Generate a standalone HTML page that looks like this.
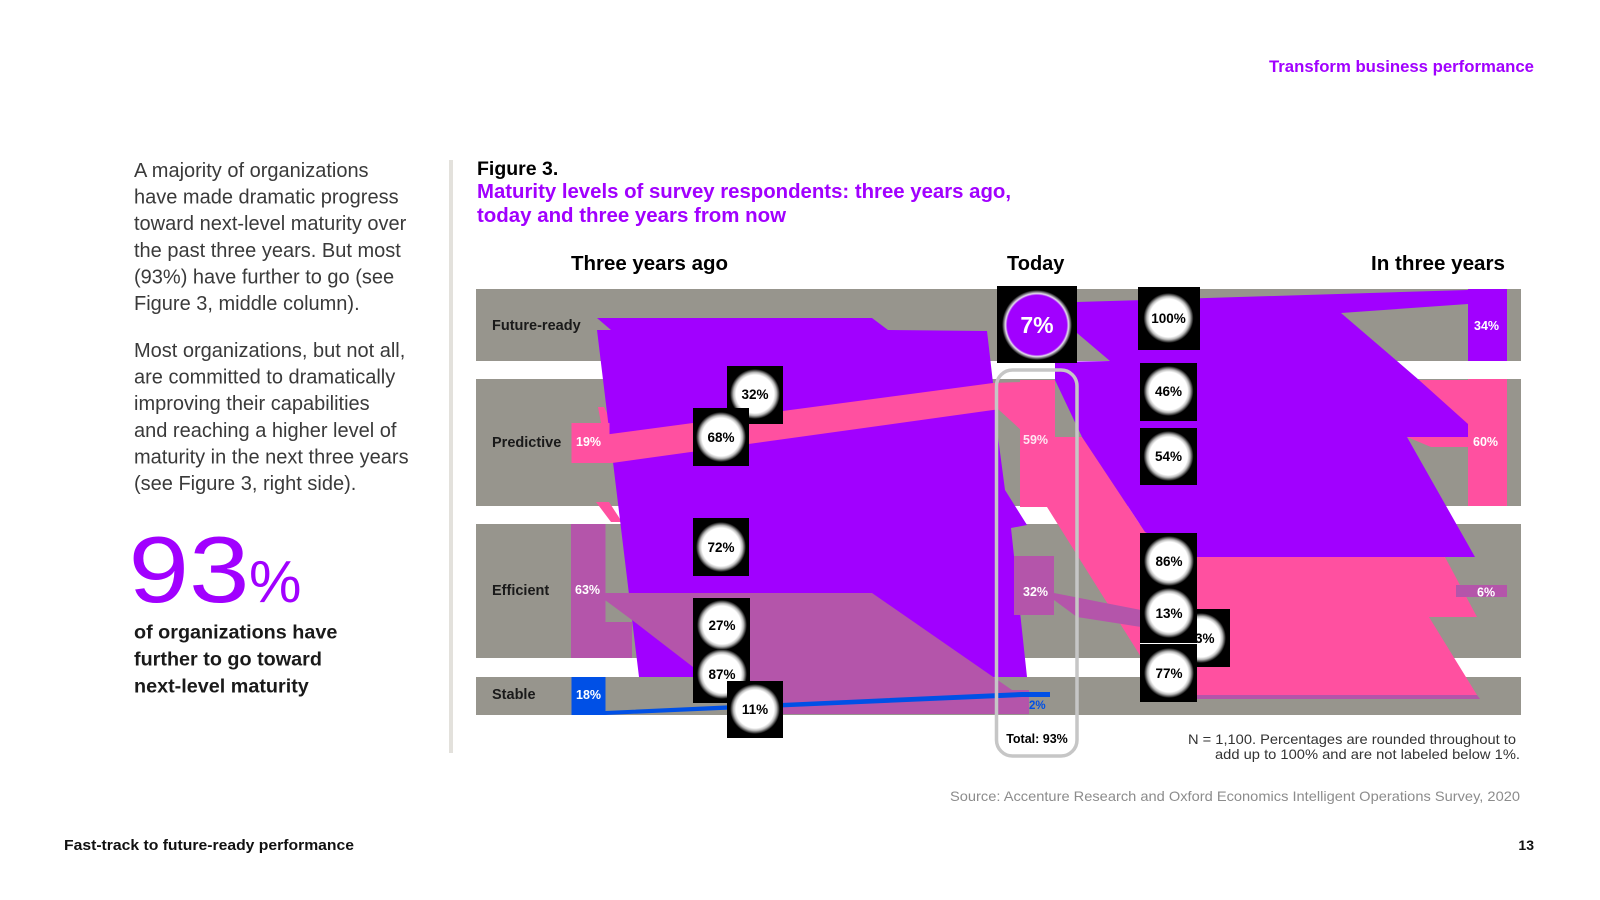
<!DOCTYPE html>
<html><head><meta charset="utf-8"><style>
html,body{margin:0;padding:0;background:#fff;}
body{width:1600px;height:900px;overflow:hidden;position:relative;font-family:"Liberation Sans",Arial,sans-serif;}
svg{position:absolute;left:0;top:0;}
text{font-family:"Liberation Sans",Arial,sans-serif;}
</style></head><body>
<svg width="1600" height="900" viewBox="0 0 1600 900" xmlns="http://www.w3.org/2000/svg">
<defs>
<radialGradient id="g" cx="0.5" cy="0.5" r="0.5">
<stop offset="0" stop-color="#fff"/><stop offset="0.76" stop-color="#fff"/><stop offset="0.86" stop-color="#bbb"/><stop offset="1" stop-color="#000"/>
</radialGradient>
<radialGradient id="gp" cx="0.5" cy="0.5" r="0.5">
<stop offset="0" stop-color="#a100ff"/><stop offset="0.85" stop-color="#a100ff"/><stop offset="0.9" stop-color="#e6e0ee"/><stop offset="1" stop-color="#000"/>
</radialGradient>
</defs>

<!-- header / footer -->
<text x="1269" y="72" font-size="16.5" font-weight="bold" fill="#a100ff" textLength="265" lengthAdjust="spacingAndGlyphs">Transform business performance</text>
<text x="64" y="850" font-size="14.5" font-weight="bold" fill="#111" textLength="290" lengthAdjust="spacingAndGlyphs">Fast-track to future-ready performance</text>
<text x="1534" y="850" font-size="14" font-weight="bold" fill="#111" text-anchor="end">13</text>
<text x="950" y="801" font-size="14" fill="#8c8c8c" textLength="570" lengthAdjust="spacingAndGlyphs">Source: Accenture Research and Oxford Economics Intelligent Operations Survey, 2020</text>

<!-- left column text -->
<g font-size="20" fill="#3a3a3a">
<text x="134" y="177">A majority of organizations</text>
<text x="134" y="203.6">have made dramatic progress</text>
<text x="134" y="230.2">toward next-level maturity over</text>
<text x="134" y="256.8">the past three years. But most</text>
<text x="134" y="283.4">(93%) have further to go (see</text>
<text x="134" y="310">Figure 3, middle column).</text>
<text x="134" y="357">Most organizations, but not all,</text>
<text x="134" y="383.6">are committed to dramatically</text>
<text x="134" y="410.2">improving their capabilities</text>
<text x="134" y="436.8">and reaching a higher level of</text>
<text x="134" y="463.4">maturity in the next three years</text>
<text x="134" y="490">(see Figure 3, right side).</text>
</g>
<text x="128.5" y="602" font-size="94" fill="#a100ff" textLength="121" lengthAdjust="spacingAndGlyphs">93</text>
<text x="249" y="602" font-size="59" fill="#a100ff">%</text>
<g font-size="19.8" font-weight="bold" fill="#1a1a1a">
<text x="134" y="638.5">of organizations have</text>
<text x="134" y="665.5">further to go toward</text>
<text x="134" y="692.5">next-level maturity</text>
</g>

<!-- divider -->
<rect x="449" y="160" width="4" height="593" fill="#e3e1dc"/>

<!-- figure titles -->
<text x="477" y="175" font-size="19.5" font-weight="bold" fill="#000">Figure 3.</text>
<text x="477" y="198" font-size="20.2" font-weight="bold" fill="#a100ff" textLength="534" lengthAdjust="spacingAndGlyphs">Maturity levels of survey respondents: three years ago,</text>
<text x="477" y="222" font-size="20.2" font-weight="bold" fill="#a100ff" textLength="309" lengthAdjust="spacingAndGlyphs">today and three years from now</text>
<g font-size="20" font-weight="bold" fill="#000">
<text x="571" y="270" textLength="157" lengthAdjust="spacingAndGlyphs">Three years ago</text>
<text x="1007" y="270">Today</text>
<text x="1371" y="270" textLength="134" lengthAdjust="spacingAndGlyphs">In three years</text>
</g>

<!-- bands -->
<g fill="#97958d">
<rect x="476" y="289" width="1045" height="72"/>
<rect x="476" y="379" width="1045" height="127"/>
<rect x="476" y="524" width="1045" height="134"/>
<rect x="476" y="677" width="1045" height="38"/>
</g>
<g font-size="14.5" font-weight="bold" fill="#1a1a1a">
<text x="492" y="330">Future-ready</text>
<text x="492" y="447">Predictive</text>
<text x="492" y="595">Efficient</text>
<text x="492" y="699">Stable</text>
</g>

<!-- small pink slivers under purple -->
<polygon points="596,502 609,502 622,522 611,522" fill="#ff50a0"/>
<polygon points="598,407 604,407 612,423 601,423" fill="#ff50a0"/>

<!-- left purple flow -->
<polygon points="597,318 872,318 888,330 987,331 993,383 998,437 1005,490 1027,525 1011,528 1027,677 639,677 597,330 611,330" fill="#a100ff"/>

<!-- mauve left flow -->
<polygon points="605,593 872,593 1012,690 1029,690 1029,714 745,714 693,667 632,620 605,600" fill="#b455aa"/>
<rect x="571" y="524" width="34.5" height="134" fill="#b455aa"/>
<rect x="571" y="622" width="61" height="36" fill="#b455aa"/>

<!-- pink left band -->
<rect x="571.5" y="423" width="38" height="40" fill="#ff50a0"/>
<polygon points="603,435 993,383 1022,382 1022,407 993,410 612,463 603,463" fill="#ff50a0"/>
<polygon points="998,409 1022,406 1022,431" fill="#ff50a0"/>

<!-- today pink block and pink flow right -->
<rect x="1020" y="380" width="35" height="127" fill="#ff50a0"/>
<polygon points="1055,437 1082,437 1145,532 1197,557 1445,557 1477,617 1429,617 1477,695 1190,695 1141,657 1047,507 1055,507" fill="#ff50a0"/>
<polygon points="1190,695 1477,695 1480,699 1195,699" fill="#b455aa"/>

<!-- mauve today block & flows -->
<rect x="1014" y="556" width="40" height="59" fill="#b455aa"/>
<polygon points="1054,593 1141,610 1141,627 1077,617 1054,600" fill="#b455aa"/>
<rect x="1456" y="585" width="51" height="12" fill="#b455aa"/>

<!-- blue -->
<rect x="571.5" y="677" width="34" height="38" fill="#0050e6"/>
<polygon points="605,711 1022,692 1050,692 1050,697 1022,697 605,715" fill="#0050e6"/>

<!-- right purple flow -->
<polygon points="1077,302 1468,290 1468,304 1341,313 1397,361 1477,430 1477,437 1407,437 1475,557 1197,557 1145,532 1082,437 1055,380 1055,362 1110,361 1077,333" fill="#a100ff"/>
<rect x="1468" y="289" width="39" height="72" fill="#a100ff"/>

<!-- right pink pieces -->
<rect x="1468" y="379" width="39" height="127" fill="#ff50a0"/>
<polygon points="1419,380 1468,380 1468,424" fill="#ff50a0"/>
<polygon points="1407,437 1468,437 1468,447 1431,447" fill="#ff50a0"/>

<!-- block labels -->
<g font-size="12.5" font-weight="bold" fill="#fff">
<text x="576" y="446">19%</text>
<text x="575" y="594">63%</text>
<text x="576" y="699">18%</text>
<text x="1023" y="444" fill="#ffe6f2">59%</text>
<text x="1023" y="596">32%</text>
<text x="1474" y="330">34%</text>
<text x="1473" y="446">60%</text>
<text x="1477" y="596.5">6%</text>
</g>
<text x="1029" y="709" font-size="11.5" font-weight="bold" fill="#0050e6">2%</text>

<!-- rounded outline -->
<rect x="996.5" y="370" width="80.5" height="386" rx="16" ry="16" fill="none" stroke="#c6c6c6" stroke-width="3.5"/>
<text x="1037" y="743" font-size="12.5" font-weight="bold" fill="#000" text-anchor="middle">Total: 93%</text>

<!-- note -->
<text x="1188" y="744" font-size="14" fill="#333" textLength="328" lengthAdjust="spacingAndGlyphs">N = 1,100. Percentages are rounded throughout to</text>
<text x="1215" y="759" font-size="14" fill="#333" textLength="305" lengthAdjust="spacingAndGlyphs">add up to 100% and are not labeled below 1%.</text>

<!-- boxes -->
<g font-size="13.5" font-weight="bold" fill="#000" text-anchor="middle">
<rect x="727" y="366" width="56" height="58" fill="#000"/><circle cx="755" cy="394" r="25" fill="url(#g)"/><text x="755" y="399">32%</text>
<rect x="693" y="408" width="56" height="58" fill="#000"/><circle cx="721" cy="437" r="25" fill="url(#g)"/><text x="721" y="442">68%</text>
<rect x="693" y="518" width="56" height="58" fill="#000"/><circle cx="721" cy="547" r="25" fill="url(#g)"/><text x="721" y="552">72%</text>
<rect x="693" y="598" width="57" height="105" fill="#000"/>
<circle cx="722" cy="625" r="25" fill="url(#g)"/><text x="722" y="630">27%</text>
<circle cx="722" cy="674" r="25" fill="url(#g)"/><text x="722" y="679">87%</text>
<rect x="727" y="681" width="56" height="57" fill="#000"/><circle cx="755" cy="709" r="25" fill="url(#g)"/><text x="755" y="714">11%</text>

<rect x="997" y="286" width="80" height="77" fill="#000"/><circle cx="1037" cy="325" r="35" fill="url(#gp)"/>
<text x="1037" y="333" font-size="23" fill="#fff">7%</text>

<rect x="1138" y="287" width="62" height="63" fill="#000"/><circle cx="1168.5" cy="318" r="25" fill="url(#g)"/><text x="1168.5" y="323">100%</text>
<rect x="1140" y="363" width="57" height="58" fill="#000"/><circle cx="1168.5" cy="391" r="25" fill="url(#g)"/><text x="1168.5" y="396">46%</text>
<rect x="1140" y="428" width="57" height="57" fill="#000"/><circle cx="1168.5" cy="456" r="25" fill="url(#g)"/><text x="1168.5" y="461">54%</text>

<rect x="1173" y="609" width="57" height="58" fill="#000"/><circle cx="1201" cy="638" r="25" fill="url(#g)"/><text x="1201" y="643">13%</text>

<rect x="1140" y="533" width="57" height="110" fill="#000"/>
<circle cx="1169" cy="561" r="25" fill="url(#g)"/><text x="1169" y="566">86%</text>
<circle cx="1169" cy="613" r="25" fill="url(#g)"/><text x="1169" y="618">13%</text>
<rect x="1140" y="644" width="57" height="58" fill="#000"/><circle cx="1169" cy="673" r="25" fill="url(#g)"/><text x="1169" y="678">77%</text>
<rect x="1140" y="643" width="57" height="1" fill="#fff"/>
</g>
</svg>
</body></html>
